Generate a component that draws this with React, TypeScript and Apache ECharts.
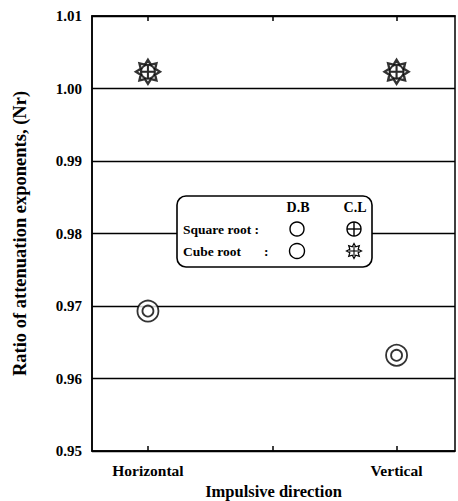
import React, { useEffect, useRef } from "react";
import * as echarts from "echarts";

const categories = ["Horizontal", "", "Vertical"];
const yTicks = [0.95, 0.96, 0.97, 0.98, 0.99, 1.0, 1.01];
const dbSquare = [0.9693, 0.9632];
const dbCube = [0.9693, 0.9632];
const clSquare = [1.0023, 1.0023];
const clCube = [1.0023, 1.0023];
const seriesX = [0, 2];

const FONT = "Liberation Serif";

function starPath(outer: number, inner: number): string {
  let d = "";
  for (let k = 0; k < 16; k++) {
    const a = (k * Math.PI) / 8 - Math.PI / 2;
    const r = k % 2 === 0 ? outer : inner;
    const x = (r * Math.cos(a)).toFixed(2);
    const y = (r * Math.sin(a)).toFixed(2);
    d += (k === 0 ? "M" : "L") + x + "," + y;
  }
  return d + "Z";
}

const circlePlus = "path://M0,-10A10,10,0,1,1,0,10A10,10,0,1,1,0,-10ZM-10,0L10,0M0,-10L0,10";
const starSym = "path://" + starPath(10, 6.5) + "M-6,0L6,0M0,-6L0,6";

function starPoints(cx: number, cy: number, outer: number, inner: number): number[][] {
  const pts: number[][] = [];
  for (let k = 0; k < 16; k++) {
    const a = (k * Math.PI) / 8 - Math.PI / 2;
    const r = k % 2 === 0 ? outer : inner;
    pts.push([cx + r * Math.cos(a), cy + r * Math.sin(a)]);
  }
  return pts;
}

export default function App() {
  const ref = useRef<HTMLDivElement>(null);
  useEffect(() => {
    if (!ref.current) return;
    const chart = echarts.init(ref.current, null, { renderer: "svg" });
    const mk = (vals: number[]) => vals.map((v, i) => [seriesX[i], v]);
    const stroke = { color: "none", borderColor: "#000", borderWidth: 1.8 };
    const lineStyle = { stroke: "#000", lineWidth: 1.4 };
    const txt = (text: string, x: number, y: number, align: string, size: number) => ({
      type: "text", x, y, z: 11,
      style: { text, fontFamily: FONT, fontSize: size, fontWeight: "bold", fill: "#000", align, verticalAlign: "middle" },
    });
    chart.setOption({
      animation: false,
      backgroundColor: "#fff",
      grid: {
        left: 92, right: 3, top: 16, bottom: 50,
        containLabel: false, outerBoundsMode: "none",
        show: true, borderColor: "#000", borderWidth: 1.5,
      },
      xAxis: [
        {
          type: "value",
          min: -0.45,
          max: 2.47,
          name: "Impulsive direction",
          nameLocation: "middle",
          nameGap: 32,
          nameTextStyle: { fontFamily: FONT, fontSize: 16.5, fontWeight: "bold", color: "#000" },
          axisLine: { show: true, onZero: false, lineStyle: { color: "#000", width: 1.5 } },
          axisTick: { show: true, inside: true, length: 5, customValues: [0, 1, 2], lineStyle: { color: "#000", width: 1.5 } },
          axisLabel: {
            customValues: [0, 2],
            margin: 11,
            fontFamily: FONT,
            fontSize: 15.5,
            fontWeight: "bold",
            color: "#000",
            formatter: (v: number) => categories[Math.round(v)] ?? "",
          },
          splitLine: { show: false },
        },
        {
          type: "value",
          position: "top",
          min: -0.45,
          max: 2.47,
          axisLine: { show: true, onZero: false, lineStyle: { color: "#000", width: 1.5 } },
          axisTick: { show: true, inside: true, length: 5, customValues: [0, 1, 2], lineStyle: { color: "#000", width: 1.5 } },
          axisLabel: { show: false },
          splitLine: { show: false },
        },
      ],
      yAxis: {
        type: "value",
        min: 0.95,
        max: 1.01,
        interval: 0.01,
        name: "Ratio of attenuation exponents, (Nr)",
        nameLocation: "middle",
        nameGap: 63,
        nameTextStyle: { fontFamily: FONT, fontSize: 18.5, fontWeight: "bold", color: "#000" },
        axisLine: { show: true, onZero: false, lineStyle: { color: "#000", width: 1.5 } },
        axisTick: { show: false },
        axisLabel: {
          margin: 10,
          fontFamily: FONT,
          fontSize: 15,
          fontWeight: "bold",
          color: "#000",
          formatter: (v: number) => {
            const t = yTicks.find((x) => Math.abs(x - v) < 1e-6);
            return (t ?? v).toFixed(2);
          },
        },
        splitLine: { show: true, lineStyle: { color: "#000", width: 1.4 } },
      },
      series: [
        { name: "D.B square", type: "scatter", data: mk(dbSquare), symbol: "circle", symbolSize: 11, itemStyle: stroke, z: 5 },
        { name: "D.B cube", type: "scatter", data: mk(dbCube), symbol: "circle", symbolSize: 21, itemStyle: { ...stroke, color: "#fff" }, z: 4 },
        { name: "C.L square", type: "scatter", data: mk(clSquare), symbol: circlePlus, symbolSize: 14, itemStyle: { ...stroke, color: "#fff", borderWidth: 2 }, z: 5 },
        { name: "C.L cube", type: "scatter", data: mk(clCube), symbol: starSym, symbolSize: 24, itemStyle: { ...stroke, borderWidth: 2.4 }, z: 4 },
      ],
      graphic: [
        {
          type: "rect",
          shape: { x: 177, y: 196, width: 195, height: 71, r: 9 },
          style: { fill: "#fff", stroke: "#000", lineWidth: 1.6 },
          z: 10,
        },
        txt("D.B", 298, 207, "center", 14),
        txt("C.L", 355, 207, "center", 14),
        txt("Square root :", 183, 229, "left", 13.5),
        txt("Cube root", 183, 251, "left", 13.5),
        txt(":", 264, 251, "left", 13.5),
        { type: "circle", z: 11, shape: { cx: 297, cy: 229, r: 7 }, style: { fill: "none", stroke: "#000", lineWidth: 1.4 } },
        { type: "circle", z: 11, shape: { cx: 297, cy: 251, r: 7.5 }, style: { fill: "none", stroke: "#000", lineWidth: 1.4 } },
        { type: "circle", z: 11, shape: { cx: 354, cy: 229, r: 7 }, style: { fill: "none", stroke: "#000", lineWidth: 1.4 } },
        { type: "line", z: 11, shape: { x1: 347, y1: 229, x2: 361, y2: 229 }, style: lineStyle },
        { type: "line", z: 11, shape: { x1: 354, y1: 222, x2: 354, y2: 236 }, style: lineStyle },
        { type: "polygon", z: 11, shape: { points: starPoints(354, 251, 7.5, 4.5) }, style: { fill: "none", stroke: "#000", lineWidth: 1.2 } },
        { type: "line", z: 11, shape: { x1: 349, y1: 251, x2: 359, y2: 251 }, style: { stroke: "#000", lineWidth: 1.1 } },
        { type: "line", z: 11, shape: { x1: 354, y1: 246, x2: 354, y2: 256 }, style: { stroke: "#000", lineWidth: 1.1 } },
      ],
    });
    return () => chart.dispose();
  }, []);
  return <div ref={ref} style={{ width: 458, height: 501, position: "absolute", left: 0, top: 0 }} />;
}
